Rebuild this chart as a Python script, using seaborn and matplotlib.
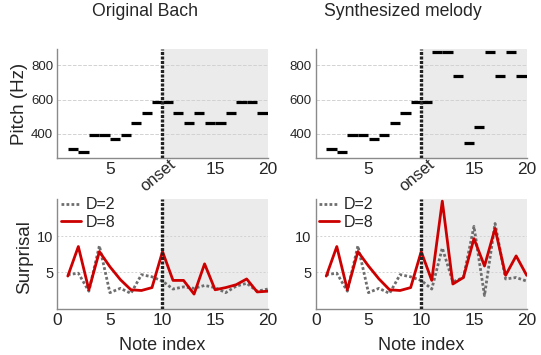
import matplotlib
matplotlib.use("Agg")
import matplotlib.pyplot as plt
import seaborn as sns

# note pitches (Hz), note i spans [i, i+1)
notes = list(range(1, 20))
pitch_bach = [311, 294, 392, 392, 370, 392, 466, 523, 587, 587,
              523, 466, 523, 466, 466, 523, 587, 587, 523]
pitch_synth = [311, 294, 392, 392, 370, 392, 466, 523, 587, 587,
               880, 880, 740, 349, 440, 880, 740, 880, 740]

# surprisal per note index
note_idx = list(range(1, 21))
bach_d2 = [4.7, 4.9, 2.4, 8.7, 2.2, 2.8, 2.1, 4.7, 4.4, 3.8,
           2.7, 3.0, 2.8, 3.2, 2.9, 2.2, 3.1, 3.5, 2.4, 2.7]
bach_d8 = [4.5, 8.6, 2.6, 7.9, 5.8, 4.0, 2.6, 2.5, 2.9, 7.9,
           3.9, 3.9, 2.0, 6.2, 2.6, 2.9, 3.3, 4.1, 2.3, 2.4]
synth_d2 = [4.7, 4.9, 2.4, 8.7, 2.2, 2.8, 2.1, 4.7, 4.4, 3.9,
            2.7, 8.4, 3.7, 4.3, 11.4, 1.8, 11.8, 4.1, 4.3, 3.8]
synth_d8 = [4.5, 8.6, 2.6, 7.9, 5.9, 4.1, 2.6, 2.5, 2.9, 7.9,
            3.9, 14.9, 3.4, 4.3, 9.7, 5.9, 11.1, 4.6, 7.3, 4.6]

titles = ["Original Bach", "Synthesized melody"]
onset = 10

sns.set_style("white")
plt.rcParams["font.family"] = ["Liberation Sans", "DejaVu Sans"]

W, H = 541, 355
fig = plt.figure(figsize=(W / 100, H / 100), dpi=100)


def px_axes(x0, x1, y0, y1):
    # pixel box (top-left origin) -> figure axes
    return fig.add_axes([x0 / W, 1 - y1 / H, (x1 - x0) / W, (y1 - y0) / H])


def style(ax, grid_ls, ysize):
    for s in ["top", "right"]:
        ax.spines[s].set_visible(False)
    for s in ["left", "bottom"]:
        ax.spines[s].set_color("#8a8a8a")
        ax.spines[s].set_linewidth(1.0)
    ax.tick_params(direction="in", length=3, color="#8a8a8a", pad=3)
    ax.tick_params(axis="x", labelsize=12.5)
    ax.tick_params(axis="y", labelsize=ysize)
    ax.yaxis.grid(True, color="#d2d2d2", lw=0.7, ls=grid_ls)
    ax.xaxis.grid(False)
    ax.axvspan(onset, 20, color="#ebebeb", zorder=0, lw=0)
    ax.axvline(onset, color="#222222", lw=2.4, ls=(0, (0.9, 0.45)), zorder=5)
    ax.set_xlim(0, 20)


lefts = [(57.3, 267.7), (315.7, 526.7)]
pitches = [pitch_bach, pitch_synth]
surprisal = [(bach_d2, bach_d8), (synth_d2, synth_d8)]

for k in range(2):
    x0, x1 = lefts[k]

    # pitch panel
    ax = px_axes(x0, x1, 49, 158)
    style(ax, "--", 9.5)
    ax.hlines(pitches[k], [n + 0.01 for n in notes], [n + 0.99 for n in notes],
              color="black", lw=2.3, zorder=4)
    ax.set_ylim(260, 895)
    ax.set_yticks([400, 600, 800])
    ax.set_xticks([5, 10, 15, 20])
    ax.set_xticklabels(["5", "", "15", "20"])
    # rotated "onset" label under the onset tick
    ax.annotate("onset", xy=(onset, 0), xycoords=("data", "axes fraction"),
                xytext=(-3.4, -12.5), textcoords="offset points",
                rotation=40, rotation_mode="anchor", ha="center",
                va="center", fontsize=12, annotation_clip=False)

    # surprisal panel
    ax2 = px_axes(x0, x1, 199, 308.5)
    style(ax2, (0, (2, 2)), 10.5)
    d2, d8 = surprisal[k]
    sns.lineplot(x=note_idx, y=d2, ax=ax2, color="#6e6e6e", lw=2.0,
                 ls=(0, (1, 0.8)), label="D=2", zorder=3)
    sns.lineplot(x=note_idx, y=d8, ax=ax2, color="#cc0000", lw=2.0,
                 label="D=8", zorder=4)
    ax2.set_ylim(0, 15.2)
    ax2.set_yticks([5, 10])
    ax2.set_xticks([0, 5, 10, 15, 20])
    ax2.set_xlabel("")
    ax2.legend(loc="upper left", frameon=False, fontsize=11.5,
               handlelength=1.25, handletextpad=0.3, labelspacing=0.15,
               borderaxespad=0.0, borderpad=0.1, bbox_to_anchor=(0.01, 1.03))

    fig.text((x0 + x1) / 2 / W - 18 / W, 1 - 11 / H, titles[k],
             ha="center", va="center", fontsize=12.7)
    fig.text((x0 + x1) / 2 / W, 1 - 345 / H, "Note index",
             ha="center", va="center", fontsize=13)

fig.text(20 / W, 1 - 104 / H, "Pitch (Hz)", rotation=90,
         ha="center", va="center", fontsize=13.5)
fig.text(25 / W, 1 - 257 / H, "Surprisal", rotation=90,
         ha="center", va="center", fontsize=13.5)

fig.savefig("out.png", dpi=100)
